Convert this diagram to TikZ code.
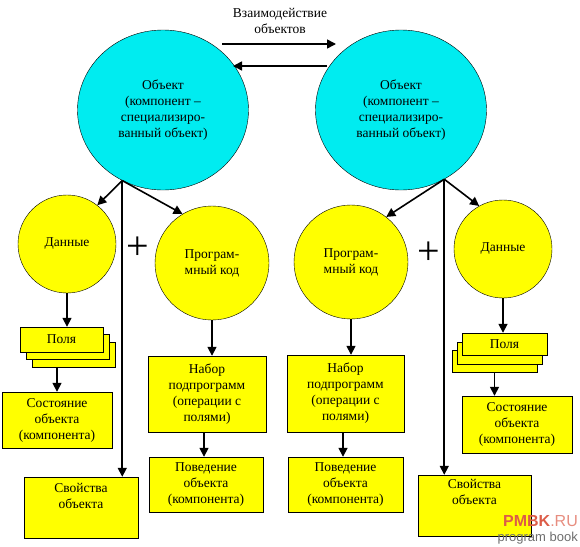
\documentclass[tikz,border=0pt]{standalone}
\usepackage{fontspec}
\setmainfont{Liberation Serif}
\setsansfont{Liberation Sans}
\usetikzlibrary{
    arrows.meta,
    shapes.geometric,
    positioning
}

\definecolor{objcyan}{RGB}{0,236,240}
\definecolor{partyellow}{RGB}{255,255,0}
\definecolor{wmred}{RGB}{220,92,72}
\definecolor{wmgray}{RGB}{110,110,110}

\tikzset{
    txt/.style={font=\fontsize{13.5}{16}\selectfont, align=center},
    obj/.style={ellipse, draw, thin, fill=objcyan, txt,
        minimum width=171pt, minimum height=160pt, inner sep=0pt},
    part/.style={circle, draw, thin, fill=partyellow, txt, inner sep=0pt},
    box/.style={rectangle, draw, thin, fill=partyellow, txt, inner sep=0pt},
    link/.style={-{Triangle[length=9pt,width=9pt]}, line width=1.6pt},
    plus/.style={font=\fontsize{40}{40}\selectfont, inner sep=0pt}
}

\begin{document}
\begin{tikzpicture}[x=1pt, y=-1pt]
    \useasboundingbox (0,0) rectangle (580,546);

    % objects
    \node[obj] (obj1) at (163,110) {Объект\\(компонент –\\специализиро-\\ванный объект)};
    \node[obj] (obj2) at (401,110) {Объект\\(компонент –\\специализиро-\\ванный объект)};

    \node[txt] (inter) at (280,21) {Взаимодействие\\объектов};
    \coordinate (i1a) at (222,44);
    \coordinate (i1b) at (336,44);
    \coordinate (i2a) at (327,66);
    \coordinate (i2b) at (233,66);
    \draw[link] (i1a) -- (i1b);
    \draw[link] (i2a) -- (i2b);

    % left object
    \node[part, minimum size=98pt]  (data1) at (67,244) {Данные};
    \node[part, minimum size=114pt] (code1) at (212,263) {Програм-\\мный код};
    \node[plus] (plus1) at (138,248) {+};

    \node[box, minimum width=83pt, minimum height=25pt] (fields1c) at (73.5,354.5) {};
    \node[box, minimum width=83pt, minimum height=25pt] (fields1b) at (67.5,347) {};
    \node[box, minimum width=83pt, minimum height=25pt] (fields1)  at (61.5,339.5) {Поля};
    \node[box, minimum width=110pt, minimum height=56pt] (state1) at (57,420) {Состояние\\объекта\\(компонента)};
    \node[box, minimum width=114pt, minimum height=61pt,
        label={[txt, anchor=north, yshift=-3pt]north:Свойства\\объекта}] (prop1) at (81,507.5) {};
    \node[box, minimum width=118pt, minimum height=76pt] (set1) at (207,394) {Набор\\подпрограмм\\(операции с\\полями)};
    \node[box, minimum width=114pt, minimum height=55pt] (beh1) at (206,484.5) {Поведение\\объекта\\(компонента)};

    \draw[link] (obj1.240) -- (data1.52);
    \draw[link] (obj1.240) -- (code1.121);
    \draw[link] (obj1.240) -- (obj1.240 |- prop1.north);
    \draw[link] (data1.south) -- (data1.south |- fields1.north);
    \draw[link] (state1.north |- fields1c.south) -- (state1.north);
    \draw[link] (code1.south) -- (code1.south |- set1.north);
    \draw[link] (204,0 |- set1.south) -- (204,0 |- beh1.north);

    % right object
    \node[part, minimum size=114pt] (code2) at (351,262) {Програм-\\мный код};
    \node[part, minimum size=98pt]  (data2) at (503,249) {Данные};
    \node[plus] (plus2) at (429,253) {+};

    \node[box, minimum width=85pt, minimum height=22pt] (fields2c) at (494.5,361) {};
    \node[box, minimum width=85pt, minimum height=22pt] (fields2b) at (499.5,353) {};
    \node[box, minimum width=85pt, minimum height=22pt] (fields2)  at (504.5,344) {Поля};
    \node[box, minimum width=110pt, minimum height=57pt] (state2) at (517,424.5) {Состояние\\объекта\\(компонента)};
    \node[box, minimum width=113pt, minimum height=61pt,
        label={[txt, anchor=north, yshift=-1pt]north:Свойства\\объекта}] (prop2) at (474.5,505.5) {};
    \node[box, minimum width=117pt, minimum height=77pt] (set2) at (345.5,393.5) {Набор\\подпрограмм\\(операции с\\полями)};
    \node[box, minimum width=115pt, minimum height=55pt] (beh2) at (345.5,484.5) {Поведение\\объекта\\(компонента)};

    \draw[link] (obj2.302) -- (code2.52);
    \draw[link] (obj2.302) -- (data2.119);
    \draw[link] (obj2.302) -- (obj2.302 |- prop2.north);
    \draw[link] (data2.south) -- (data2.south |- fields2.north);
    \draw[link] (fields2c.south) -- (fields2c.south |- state2.north);
    \draw[link] (code2.south) -- (code2.south |- set2.north);
    \draw[link] (343,0 |- set2.south) -- (343,0 |- beh2.north);

    % watermark
    \node[font=\sffamily\bfseries\fontsize{16}{16}\selectfont, text=wmred, anchor=south east, inner sep=0pt]
        (wm1) at (578,527) {PMBK\textmd{\color{wmred!70}.RU}};
    \node[font=\sffamily\fontsize{13}{13}\selectfont, text=wmgray, anchor=north east, inner sep=0pt]
        (wm2) at (578,532) {program book};
\end{tikzpicture}
\end{document}
